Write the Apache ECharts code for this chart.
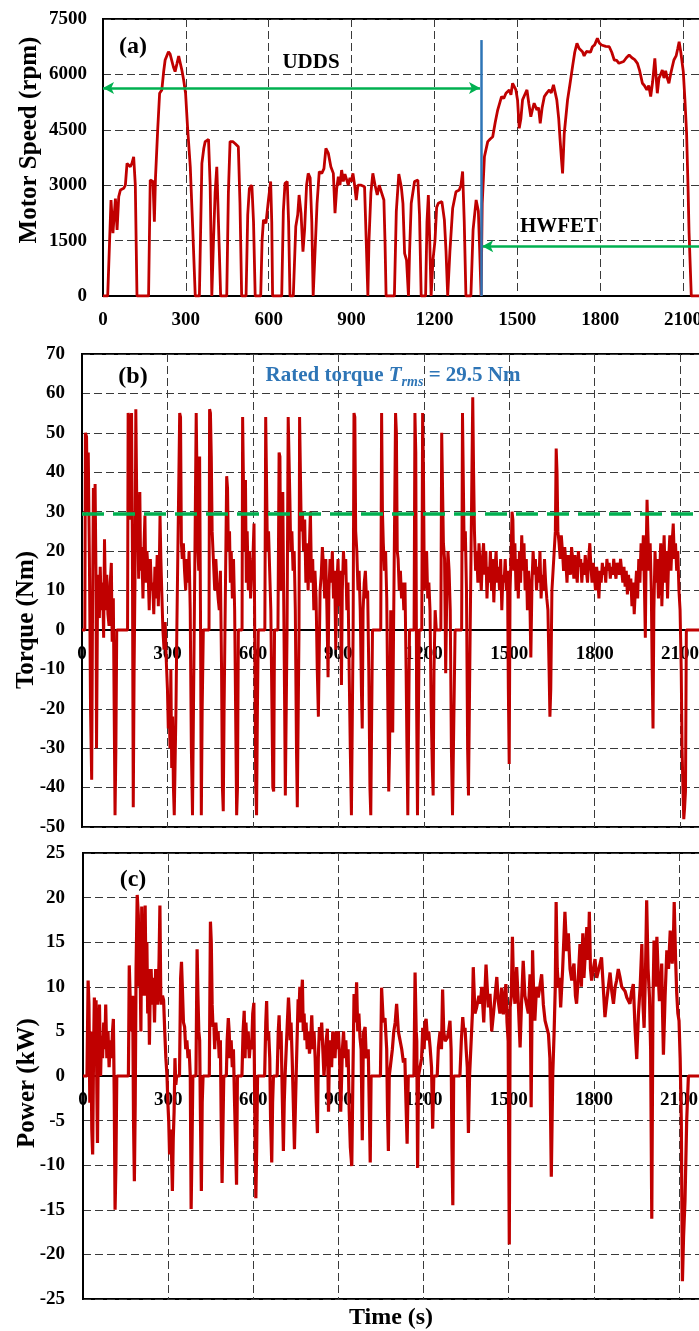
<!DOCTYPE html>
<html>
<head>
<meta charset="utf-8">
<title>Motor speed, torque and power</title>
<script src="https://cdn.jsdelivr.net/npm/echarts@6.0.0/dist/echarts.min.js"></script>
<style>
html,body{margin:0;padding:0;background:#fff;}
#chart{width:699px;height:1331px;}
</style>
</head>
<body>
<div id="chart"></div>
<script>
// tick values
const timeTicks = { min: 0, interval: 300 };
const speedTicks = { min: 0, max: 7500, interval: 1500 };
const torqueTicks = { min: -50, max: 70, interval: 10 };
const powerTicks = { min: -25, max: 25, interval: 5 };

// cycle markers
const uddsEnd = 1369;
const uddsArrowRpm = 5630;
const hwfetArrowRpm = 1350;
const dividerTop = 6930;
const ratedTorque = 29.5;

// (a) motor speed [s, rpm]
const speedRpm = [[0,0],[17,0],[29,2600],[36,1700],[45,2640],[51,1790],[57,2690],[63,2870],[75,2915],[81,3000],[87,3590],[99,3500],[105,3600],[111,3770],[117,3000],[123,0],[165,0],[171,3140],[181,3100],[186,2010],[190,3190],[198,4500],[205,5490],[213,5580],[220,6100],[225,6390],[237,6615],[243,6550],[249,6525],[255,6200],[261,6075],[268,6300],[274,6500],[280,6525],[286,6100],[292,5850],[299,5490],[306,4585],[316,3500],[325,1800],[334,0],[349,0],[358,3590],[365,4000],[370,4180],[382,4240],[388,3000],[394,0],[400,1500],[406,2800],[412,3500],[418,2000],[426,0],[448,0],[454,2800],[460,4180],[470,4180],[478,4130],[490,4040],[496,2500],[502,0],[518,0],[524,2200],[530,2915],[539,3000],[545,2000],[551,0],[571,0],[576,1500],[581,2060],[590,1970],[599,2600],[607,3100],[611,2000],[614,0],[647,0],[653,2300],[659,3050],[667,3100],[672,2000],[677,0],[689,0],[698,1880],[705,2200],[710,2735],[717,2240],[724,1200],[730,1800],[737,3000],[743,3320],[750,3200],[756,2000],[761,0],[767,0],[775,2500],[783,3370],[792,3320],[800,3450],[807,4000],[816,3860],[825,3500],[834,3320],[840,2240],[846,2900],[852,3230],[858,3000],[864,3410],[870,3100],[876,3300],[882,3150],[888,3000],[894,3200],[899,3100],[905,3320],[911,3000],[917,2600],[923,3000],[935,3000],[947,2960],[953,1500],[959,0],[963,1500],[970,2800],[977,3320],[985,3000],[993,2735],[1000,3000],[1007,2960],[1017,2600],[1021,1500],[1025,0],[1055,0],[1062,2300],[1071,3300],[1080,2960],[1086,2500],[1092,1155],[1099,975],[1106,0],[1110,1200],[1116,2510],[1128,3100],[1140,3140],[1146,2200],[1152,0],[1168,0],[1173,2000],[1178,2735],[1183,1500],[1188,0],[1195,1000],[1202,1500],[1208,2400],[1214,2510],[1227,2555],[1236,2060],[1242,1200],[1248,0],[1256,1200],[1266,2375],[1278,2825],[1290,2870],[1296,3000],[1302,3370],[1308,2000],[1314,0],[1332,0],[1340,1800],[1351,2600],[1359,2300],[1364,1200],[1369,0],[1373,2500],[1381,3770],[1393,4180],[1402,4250],[1411,4310],[1420,4700],[1429,5035],[1443,5400],[1451,5350],[1459,5490],[1471,5580],[1477,5450],[1483,5760],[1495,5580],[1501,5300],[1507,4540],[1513,4800],[1519,5310],[1527,5450],[1535,5580],[1542,5200],[1549,4855],[1555,5050],[1561,5220],[1571,5035],[1577,5100],[1583,4675],[1590,5100],[1598,5400],[1607,5500],[1616,5580],[1623,5500],[1631,5715],[1643,5310],[1650,4800],[1655,4225],[1660,3700],[1664,3320],[1670,4400],[1682,5310],[1690,5700],[1700,6210],[1708,6600],[1716,6840],[1724,6700],[1730,6650],[1736,6615],[1742,6500],[1750,6620],[1757,6660],[1765,6600],[1772,6750],[1780,6800],[1790,6975],[1797,6850],[1805,6795],[1812,6750],[1820,6760],[1833,6750],[1842,6600],[1851,6390],[1860,6380],[1868,6300],[1875,6300],[1885,6350],[1895,6450],[1905,6525],[1915,6450],[1925,6400],[1935,6300],[1943,6100],[1953,5760],[1960,5700],[1969,5580],[1976,5700],[1983,5400],[1990,5800],[1998,6435],[2003,5900],[2007,5490],[2013,5900],[2019,6000],[2025,6120],[2031,5900],[2037,6100],[2043,5900],[2049,5760],[2055,6000],[2061,6200],[2067,6390],[2075,6500],[2081,6700],[2086,6885],[2092,6600],[2101,6075],[2107,5300],[2113,4400],[2118,3000],[2122,1700],[2130,0],[2190,0]];

// (b) torque [s, Nm]
const torqueNm = [[0,0],[10,0],[12,50],[16,49],[19,30],[22,45],[26,18],[30,-20],[34,-38],[37,5],[40,36],[43,20],[46,37],[49,15],[51,-30],[54,2],[57,14],[61,3],[64,16],[68,5],[72,12],[76,-2],[79,23],[83,5],[87,14],[91,4],[95,1],[99,12],[103,17],[106,-3],[110,8],[113,-20],[116,-47],[119,-30],[122,0],[160,0],[162,55],[165,54],[168,28],[171,30],[174,55],[177,20],[180,-45],[183,-10],[186,12],[189,56],[192,35],[196,25],[199,13],[203,35],[206,15],[210,21],[214,8],[218,22],[221,29],[224,12],[228,20],[232,15],[236,5],[240,18],[244,10],[248,12],[252,4],[256,16],[260,8],[264,19],[268,6],[272,19],[274,29],[277,18],[280,10],[284,0],[288,-5],[292,2],[296,-8],[300,-15],[303,-25],[306,-19],[309,-30],[312,-10],[315,-35],[318,-22],[321,-40],[324,-47],[327,-47],[330,-20],[333,0],[340,0],[343,55],[346,54],[349,22],[352,18],[356,22],[360,15],[364,10],[368,18],[372,12],[376,20],[380,5],[384,-30],[388,-47],[391,-47],[394,0],[398,0],[401,55],[404,55],[407,20],[410,15],[413,44],[416,5],[419,-47],[422,-20],[426,0],[446,0],[448,56],[451,55],[454,44],[457,25],[460,20],[463,15],[466,10],[470,18],[474,12],[478,8],[482,5],[486,15],[490,-10],[493,-40],[496,-46],[499,-20],[502,0],[505,0],[508,39],[511,36],[514,20],[518,25],[521,12],[524,20],[528,8],[532,18],[536,5],[540,-25],[543,-47],[546,-40],[549,0],[562,0],[564,54],[567,54],[570,20],[574,38],[577,12],[580,25],[584,10],[588,20],[592,8],[596,15],[600,18],[604,27],[607,-5],[610,-40],[613,-47],[616,-20],[619,0],[642,0],[645,54],[648,38],[651,20],[655,25],[659,15],[663,5],[667,-20],[670,-40],[673,-41],[676,0],[688,0],[692,45],[695,44],[698,10],[702,31],[705,35],[708,10],[711,-15],[714,-42],[717,-42],[720,0],[724,54],[727,54],[730,33],[733,20],[737,25],[741,15],[745,20],[749,5],[753,-30],[756,-45],[759,-45],[762,0],[764,54],[767,54],[770,25],[774,30],[778,20],[782,28],[786,12],[790,22],[794,10],[798,20],[802,30],[806,12],[810,18],[814,5],[818,15],[822,8],[826,-10],[830,-22],[833,-22],[836,10],[840,14],[844,21],[848,16],[852,8],[856,18],[860,5],[864,-12],[867,10],[871,18],[875,12],[879,20],[883,8],[887,15],[891,-5],[895,12],[899,18],[903,6],[907,15],[911,-14],[914,10],[918,20],[922,14],[926,18],[930,5],[934,12],[938,-10],[942,-30],[946,-47],[949,-47],[952,0],[955,55],[958,54],[961,25],[965,20],[969,10],[973,15],[977,5],[981,-15],[984,-25],[987,5],[991,12],[995,15],[999,8],[1003,10],[1007,-10],[1011,-40],[1014,-47],[1017,-47],[1020,0],[1049,0],[1052,55],[1055,30],[1058,22],[1062,15],[1066,20],[1070,8],[1074,-20],[1077,-41],[1080,-30],[1084,5],[1088,-10],[1091,-26],[1094,0],[1098,0],[1101,55],[1104,50],[1107,20],[1110,18],[1114,10],[1118,15],[1122,8],[1126,12],[1130,5],[1134,12],[1138,-10],[1141,-30],[1144,-47],[1147,-47],[1150,0],[1166,0],[1169,55],[1172,45],[1175,-20],[1178,-47],[1181,-47],[1184,0],[1193,0],[1196,55],[1199,40],[1202,10],[1206,15],[1210,20],[1214,8],[1218,12],[1222,5],[1226,-20],[1230,-35],[1233,-42],[1236,-10],[1240,5],[1244,0],[1260,0],[1263,50],[1266,50],[1269,22],[1273,18],[1277,-11],[1281,10],[1285,20],[1289,15],[1293,5],[1297,-30],[1301,-47],[1304,-47],[1307,-47],[1310,0],[1333,0],[1336,55],[1339,55],[1342,20],[1346,25],[1350,10],[1354,-30],[1357,-42],[1360,-42],[1363,0],[1369,0],[1372,59],[1375,40],[1378,25],[1382,15],[1386,20],[1390,12],[1394,22],[1398,16],[1402,10],[1406,18],[1410,22],[1414,14],[1418,20],[1422,8],[1426,16],[1430,12],[1434,20],[1438,10],[1442,18],[1446,7],[1450,15],[1454,20],[1458,12],[1462,16],[1466,10],[1470,18],[1474,5],[1478,14],[1482,12],[1486,18],[1490,10],[1494,15],[1497,-15],[1500,-34],[1503,10],[1507,20],[1510,30],[1513,28],[1516,15],[1520,22],[1524,10],[1528,18],[1532,8],[1536,20],[1540,12],[1544,24],[1548,15],[1552,22],[1556,10],[1560,18],[1564,5],[1568,15],[1572,10],[1576,-7],[1580,12],[1584,20],[1588,14],[1592,18],[1596,10],[1600,16],[1604,12],[1608,20],[1612,8],[1616,14],[1620,10],[1624,18],[1628,12],[1632,8],[1636,5],[1640,-10],[1643,-22],[1646,-15],[1650,10],[1654,15],[1658,20],[1662,25],[1665,46],[1668,40],[1671,25],[1675,22],[1679,18],[1683,24],[1687,20],[1691,15],[1695,21],[1699,17],[1703,12],[1707,19],[1711,16],[1715,14],[1719,21],[1723,18],[1727,13],[1731,19],[1735,15],[1739,12],[1743,20],[1747,16],[1751,18],[1755,12],[1759,17],[1763,14],[1767,19],[1771,15],[1775,12],[1779,18],[1783,22],[1787,16],[1791,12],[1795,17],[1799,14],[1803,10],[1807,16],[1811,13],[1815,8],[1819,15],[1823,12],[1827,17],[1831,14],[1835,16],[1839,12],[1843,18],[1847,15],[1851,17],[1855,13],[1859,16],[1863,14],[1867,18],[1871,15],[1875,13],[1879,17],[1883,16],[1887,14],[1891,18],[1895,15],[1899,12],[1903,16],[1907,11],[1911,15],[1915,9],[1919,14],[1923,10],[1927,13],[1931,6],[1935,12],[1939,4],[1943,10],[1947,15],[1951,8],[1955,18],[1959,12],[1963,22],[1967,15],[1971,24],[1975,10],[1978,-2],[1981,20],[1984,33],[1987,25],[1991,15],[1995,22],[1999,10],[2002,-10],[2005,-25],[2008,5],[2012,20],[2016,12],[2020,18],[2024,8],[2028,14],[2032,22],[2036,6],[2040,16],[2044,24],[2048,12],[2052,20],[2056,8],[2060,18],[2064,24],[2068,15],[2072,22],[2076,27],[2080,18],[2084,22],[2088,15],[2092,20],[2096,10],[2100,5],[2104,-10],[2107,-30],[2110,-40],[2113,-48],[2116,-45],[2119,-41],[2122,0],[2190,0]];

// (c) power [s, kW]
const powerKw = [[0,0],[14,0],[18,10.7],[21,8],[24,-3],[28,5],[31,-6],[34,-8.8],[37,2],[40,8.8],[43,3],[46,8.5],[49,-2],[51,-7.5],[54,4],[58,8],[62,0],[65,4.5],[69,2],[73,6],[77,3],[80,8],[84,2],[88,5],[92,1],[96,4],[100,2],[104,5],[107,6.4],[110,-2],[113,-15],[116,-10],[119,0],[160,0],[163,12.4],[166,9],[169,9],[172,5],[175,9],[178,-5],[181,-11.8],[184,-3],[187,12],[191,20.3],[195,18],[198,10],[201,13],[204,5],[207,19],[210,12],[213,14.5],[216,9],[219,19.1],[222,10],[225,15],[228,7],[231,12],[234,3.5],[237,10],[240,12],[244,8],[248,11],[252,6],[256,12],[260,10],[264,8],[268,13],[271,19.1],[274,9],[277,8],[280,9],[284,8.5],[288,5],[292,2],[296,0],[299,-3],[302,-5],[305,-8.8],[308,-6],[311,-7.5],[315,-12.9],[318,-7],[321,-4],[324,2],[327,-1],[330,0],[340,0],[344,11],[347,12.8],[350,10],[354,6],[358,5.5],[362,3],[366,4],[370,2],[374,3],[378,0],[381,-14.9],[384,-8],[387,0],[398,0],[402,14.2],[405,9],[408,5],[411,4],[414,-5],[417,-12.9],[420,-3],[423,0],[445,0],[449,17.3],[452,15],[455,8],[458,5.5],[461,6],[464,3],[468,6],[472,4],[476,5],[480,2],[484,4],[487,-5],[490,-12],[493,-6],[496,0],[505,0],[508,4],[512,6.5],[515,5],[518,2],[522,4],[526,1],[530,3],[534,-3],[538,-8],[541,-12.2],[544,0],[560,0],[564,5],[568,7.3],[571,2],[574,6],[578,3],[582,5],[586,2],[590,4],[594,3],[598,7],[602,8.2],[605,-3],[609,-13.7],[612,-8],[615,0],[640,0],[644,6],[647,8.4],[650,4],[654,5],[658,2],[661,-5],[665,-9.7],[668,-3],[671,0],[684,0],[688,5],[691,6.8],[694,3],[698,5],[702,-2],[706,-8.4],[709,-3],[712,0],[716,0],[720,6],[724,8.8],[727,7],[730,4],[733,6],[737,2],[741,-3],[745,-8.2],[748,-4],[751,0],[754,0],[758,8.6],[761,7],[764,10],[767,6],[770,9],[773,10.8],[776,5],[779,7],[782,4],[786,6],[790,3],[794,5],[798,2.5],[802,4],[806,6.8],[810,3],[814,5],[818,2],[822,-3],[826,-6.4],[829,2],[833,5.5],[837,4],[841,6],[845,3],[849,0],[853,2],[857,4],[861,5.3],[865,-4],[868,2],[872,4],[876,1],[880,5],[884,3],[888,2],[892,5],[896,3],[900,5],[904,2],[908,-4],[911,-4],[914,3],[918,5],[922,2],[926,4],[930,1],[934,3],[938,-4],[942,-8],[947,-10.1],[951,0],[955,9.2],[960,6],[964,10.5],[968,5],[972,7],[976,4.3],[980,3],[984,-7.2],[988,4.8],[994,5.5],[998,2],[1005,3],[1009,-4],[1012,-9.7],[1015,0],[1048,0],[1052,9.9],[1058,6],[1064,6.5],[1070,3],[1073,-4],[1076,-8.4],[1079,0],[1085,0],[1090,3],[1095,5],[1100,6],[1105,8.1],[1111,5],[1117,5.1],[1123,3],[1129,1.5],[1134,2],[1138,-3],[1142,-7.6],[1146,0],[1166,0],[1170,11.6],[1174,5],[1176,3.9],[1179,-10.3],[1182,0],[1188,0],[1193,2],[1197,5.4],[1202,3],[1205,6],[1209,6.4],[1214,4],[1218,5],[1223,3.2],[1228,1],[1232,-5.9],[1236,0],[1248,0],[1252,3.2],[1258,5],[1263,3],[1267,9.7],[1271,5],[1276,3.9],[1280,4],[1284,4.3],[1288,5],[1293,6.2],[1297,3],[1300,-8],[1303,-14.5],[1306,0],[1328,0],[1333,4],[1338,6.6],[1342,5],[1346,5.4],[1350,3],[1354,1],[1358,-6.4],[1362,0],[1369,0],[1372,7],[1375,12.2],[1381,7],[1387,7.7],[1395,9],[1400,8.1],[1405,10],[1412,6],[1420,12.5],[1428,7.7],[1434,9.2],[1440,5],[1446,6.9],[1452,9],[1458,11.1],[1463,8.4],[1469,7],[1475,9.9],[1481,6.9],[1486,9],[1490,10.3],[1494,6],[1498,3.9],[1502,-18.9],[1505,7.7],[1509,9],[1513,15.6],[1517,10],[1522,8.1],[1528,12.2],[1534,8],[1540,3.2],[1546,9],[1551,12.9],[1557,9],[1563,9.2],[1569,7],[1575,11.4],[1579,-3.5],[1584,14.1],[1588,9],[1592,6.2],[1598,10],[1604,8.8],[1610,9],[1616,11.4],[1622,8],[1628,6.2],[1634,6],[1640,4.7],[1645,2],[1650,-11.3],[1655,0],[1660,5],[1664,10],[1667,19.5],[1671,12],[1675,9.9],[1679,11],[1683,7.7],[1690,12],[1698,18.4],[1704,14],[1710,16],[1716,12],[1722,10.7],[1726,12],[1730,12.6],[1735,9],[1739,8.1],[1745,11],[1751,14.8],[1756,10],[1761,16],[1765,11],[1769,13.3],[1775,16.7],[1780,13],[1784,18.4],[1788,12],[1792,10.7],[1798,12],[1804,13.1],[1810,11],[1816,11.8],[1822,12],[1827,13.3],[1833,10],[1839,6.6],[1845,8.4],[1851,10],[1857,11.6],[1863,9.5],[1869,8.1],[1875,10],[1880,10.7],[1886,12],[1892,11.1],[1898,10],[1904,9.9],[1910,9.5],[1916,8.8],[1922,9],[1927,8.1],[1933,9.5],[1939,10.3],[1945,5.4],[1951,1.9],[1957,6.9],[1963,10],[1969,14.8],[1973,8],[1977,5.4],[1982,12],[1986,19.7],[1991,12],[1996,8.8],[2000,3],[2004,-16],[2008,8],[2012,15.2],[2017,10],[2022,15.6],[2027,11],[2031,8.4],[2035,10],[2039,12.6],[2042,7],[2045,2.4],[2051,9],[2057,14.1],[2063,12],[2069,16.3],[2073,14],[2076,12.6],[2080,15],[2083,19.5],[2088,13],[2092,9.2],[2096,7],[2100,6.2],[2104,2],[2108,-5],[2112,-23],[2116,-18],[2121,-14],[2127,-5],[2133,0],[2190,0]];

const SERIF = '"Liberation Serif", "Times New Roman", serif';
const RED = '#c00000';
const GREEN = '#00b050';
const BLUE = '#2e75b6';

let chart = echarts.init(document.getElementById('chart'));

function tickLabel(margin) {
  return {fontFamily: SERIF, fontWeight: 'bold', fontSize: 19, color: '#000', margin: margin,
          formatter: function (v) { return String(v); }};
}
const dashed = {show: true, lineStyle: {color: '#3a3a3a', type: [8, 4], width: 1}};
const frameLine = {show: true, onZero: true, lineStyle: {color: '#000', width: 2}};

function xAx(idx, max, margin, showLabel) {
  let lbl = Object.assign(tickLabel(margin), {showMaxLabel: false, show: showLabel});
  return {
    type: 'value', gridIndex: idx, min: timeTicks.min, max: max, interval: timeTicks.interval,
    axisLine: frameLine, axisTick: {show: false},
    axisLabel: lbl,
    splitLine: dashed
  };
}
// label-only axis lifted up to the zero line (offset is negative = upwards)
function xZeroLabels(idx, max, lift) {
  return {
    type: 'value', gridIndex: idx, min: timeTicks.min, max: max, interval: timeTicks.interval,
    position: 'bottom', offset: -lift,
    axisLine: {show: false, onZero: false}, axisTick: {show: false},
    axisLabel: Object.assign(tickLabel(15), {showMaxLabel: false}),
    splitLine: {show: false}
  };
}
function yAx(idx, t, margin) {
  return {
    type: 'value', gridIndex: idx, min: t.min, max: t.max, interval: t.interval,
    axisLine: frameLine, axisTick: {show: false},
    axisLabel: tickLabel(margin),
    splitLine: dashed
  };
}
function redLine(idx, data, w) {
  return {
    type: 'line', xAxisIndex: idx, yAxisIndex: idx, data: data,
    showSymbol: false, symbol: 'none', animation: false,
    lineStyle: {color: RED, width: w}, z: 3
  };
}
function txt(x, y, text, size, extra) {
  return Object.assign({
    type: 'text', x: x, y: y, z: 100,
    style: {text: text, fill: '#000', font: 'bold ' + size + 'px ' + SERIF, align: 'center', verticalAlign: 'middle'}
  }, extra || {});
}

const greenArrow = {color: GREEN, width: 2.5, type: 'solid'};

let speedSeries = redLine(0, speedRpm, 2.8);
speedSeries.markLine = {
  silent: true, animation: false, label: {show: false}, symbolSize: [9, 11],
  data: [
    [{coord: [0, uddsArrowRpm], symbol: 'arrow', lineStyle: greenArrow}, {coord: [uddsEnd - 4, uddsArrowRpm], symbol: 'arrow'}],
    [{coord: [uddsEnd + 4, hwfetArrowRpm], symbol: 'arrow', lineStyle: greenArrow}, {coord: [2176, hwfetArrowRpm], symbol: 'none'}],
    [{coord: [uddsEnd, 0], symbol: 'none', lineStyle: {color: BLUE, width: 2.5, type: 'solid'}}, {coord: [uddsEnd, dividerTop], symbol: 'none'}]
  ]
};

let torqueSeries = redLine(1, torqueNm, 3);
torqueSeries.markLine = {
  silent: true, animation: false, symbol: 'none', label: {show: false},
  lineStyle: {color: GREEN, width: 3.5, type: [22, 9]},
  data: [{yAxis: ratedTorque}]
};

let powerSeries = redLine(2, powerKw, 3.2);

let option = {
  backgroundColor: '#fff',
  animation: false,
  grid: [
    {left: 103, top: 19, width: 601, height: 277, show: true, borderColor: '#000', borderWidth: 2, outerBoundsMode: 'none', containLabel: false},
    {left: 82, top: 354, width: 622, height: 473, show: true, borderColor: '#000', borderWidth: 2, outerBoundsMode: 'none', containLabel: false},
    {left: 83, top: 853, width: 621, height: 446, show: true, borderColor: '#000', borderWidth: 2, outerBoundsMode: 'none', containLabel: false}
  ],
  xAxis: [
    xAx(0, 2176, 15, true), xAx(1, 2184, 15, false), xAx(2, 2188, 15, false),
    xZeroLabels(1, 2184, 197), xZeroLabels(2, 2188, 223)
  ],
  yAxis: [yAx(0, speedTicks, 16), yAx(1, torqueTicks, 17), yAx(2, powerTicks, 18)],
  series: [speedSeries, torqueSeries, powerSeries],
  graphic: [
    txt(133, 47, '(a)', 24),
    txt(133, 377, '(b)', 24),
    txt(133, 880, '(c)', 24),
    txt(311, 63, 'UDDS', 21),
    txt(559, 227, 'HWFET', 21),
    {
      type: 'text', x: 393, y: 376, z: 100,
      style: {
        text: '{a|Rated torque }{b|T}{c|rms}{a| = 29.5 Nm}',
        align: 'center', verticalAlign: 'middle',
        rich: {
          a: {fill: BLUE, fontFamily: SERIF, fontWeight: 'bold', fontSize: 21},
          b: {fill: BLUE, fontFamily: SERIF, fontWeight: 'bold', fontStyle: 'italic', fontSize: 21},
          c: {fill: BLUE, fontFamily: SERIF, fontWeight: 'bold', fontStyle: 'italic', fontSize: 14, padding: [12, 0, 0, 0]}
        }
      }
    },
    txt(30, 140, 'Motor Speed (rpm)', 25, {rotation: Math.PI / 2}),
    txt(27, 620, 'Torque (Nm)', 25, {rotation: Math.PI / 2}),
    txt(28, 1083, 'Power (kW)', 25, {rotation: Math.PI / 2}),
    txt(391, 1318, 'Time (s)', 24)
  ]
};

chart.setOption(option);
</script>
</body>
</html>
